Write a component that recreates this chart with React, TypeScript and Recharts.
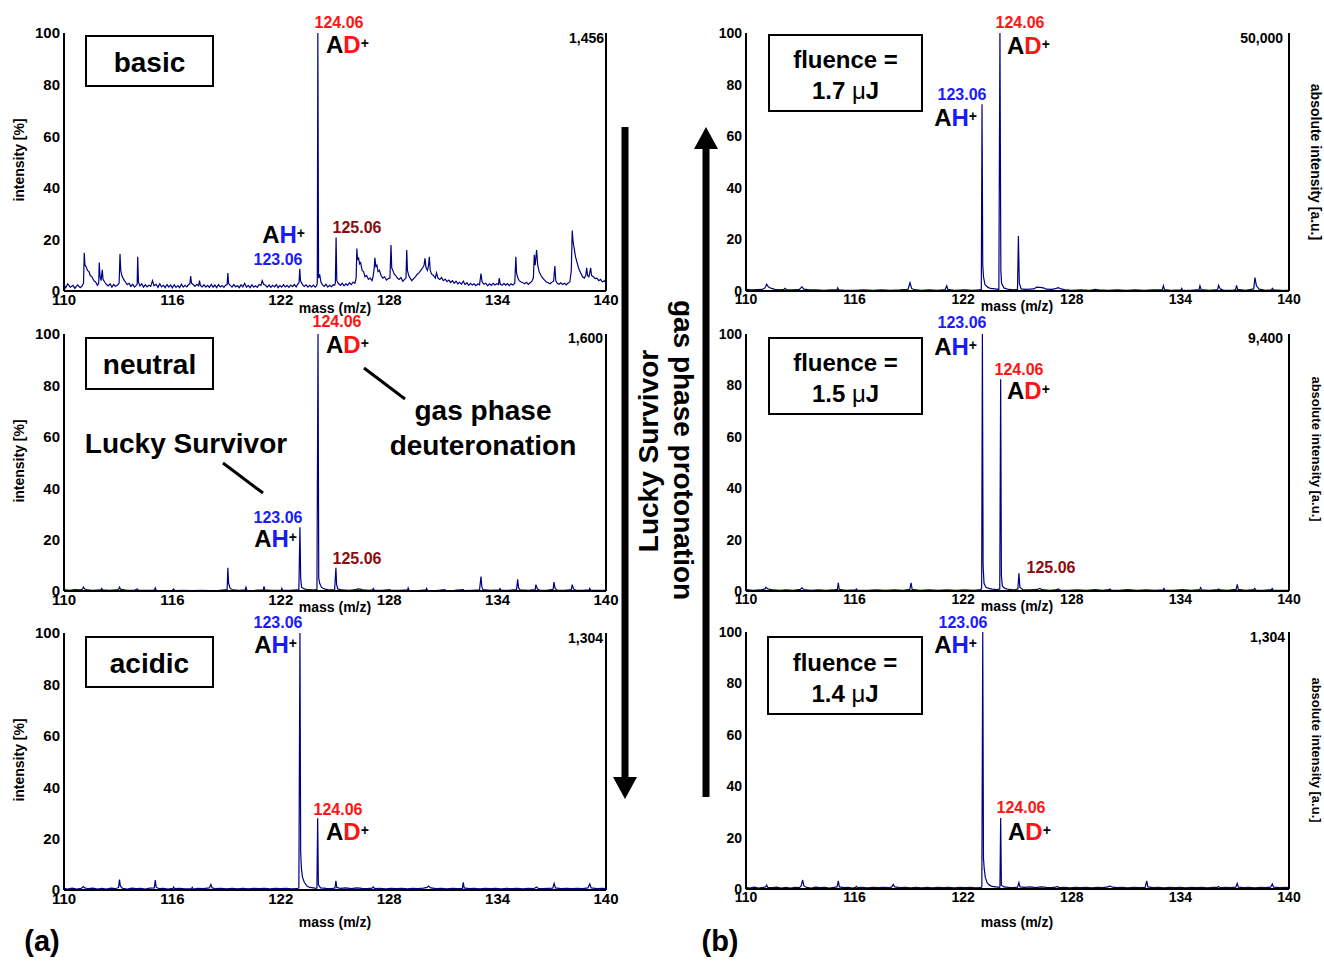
import React from 'react';
import { LineChart, Line, XAxis, YAxis, ReferenceLine } from 'recharts';

const FONT = '"Liberation Sans", Arial, Helvetica, sans-serif';
const X_TICKS = [110, 116, 122, 128, 134, 140];
const Y_TICKS = [0, 20, 40, 60, 80, 100];

// (a) basic solution
const basicSpectrum: [number, number][] = [
  [110.0, 2.5], [110.1, 1.2], [110.2, 2.8], [110.35, 1.5], [110.5, 2.2], [110.6, 1.0], [110.75, 2.4], [110.9, 1.3], [111.0, 2.0],
  [111.08, 3.0], [111.12, 14.8], [111.16, 10], [111.22, 9.5], [111.3, 8], [111.38, 7.5], [111.45, 6], [111.55, 5.5], [111.65, 4],
  [111.75, 3.5], [111.85, 2.2], [111.92, 3], [111.95, 11], [111.99, 6], [112.05, 4], [112.12, 8.2], [112.16, 4.5], [112.25, 3.5],
  [112.35, 2.5], [112.45, 2], [112.55, 2.8], [112.65, 1.5], [112.75, 2.5], [112.85, 1.8], [112.95, 2.2], [113.05, 3], [113.1, 14.3],
  [113.14, 8], [113.2, 6], [113.3, 4.5], [113.4, 3.5], [113.5, 2.5], [113.6, 3], [113.7, 1.8], [113.8, 2.6], [113.9, 1.5], [114.0, 2.2],
  [114.05, 2.5], [114.08, 13.3], [114.12, 3.5], [114.2, 2], [114.3, 2.8], [114.4, 1.5], [114.5, 2.4], [114.6, 1.6], [114.7, 2.2],
  [114.8, 1.8], [114.9, 4], [114.98, 2], [115.1, 2.6], [115.2, 1.4], [115.3, 2.8], [115.4, 1.6], [115.5, 2.2], [115.6, 1.3], [115.7, 2.5],
  [115.8, 1.5], [115.9, 2.3], [116.0, 1.2], [116.1, 2.4], [116.2, 1.4], [116.3, 2.1], [116.4, 1.3], [116.5, 2.6], [116.6, 1.5], [116.7, 2.2],
  [116.8, 1.6], [116.9, 2.5], [116.97, 2.8], [117.01, 5.8], [117.06, 3], [117.15, 2.5], [117.25, 1.8], [117.35, 2.6], [117.45, 2],
  [117.5, 4], [117.55, 2.2], [117.65, 1.6], [117.75, 2.4], [117.85, 1.5], [117.95, 2.2], [118.05, 1.4], [118.15, 2.6], [118.25, 1.5],
  [118.35, 2.3], [118.45, 1.3], [118.55, 2.5], [118.65, 1.6], [118.75, 2.1], [118.85, 1.4], [118.95, 2.3], [119.03, 2.5], [119.07, 7],
  [119.11, 3], [119.2, 2.2], [119.3, 1.5], [119.4, 2.5], [119.5, 1.6], [119.6, 2.1], [119.7, 1.3], [119.8, 2.4], [119.9, 1.6], [120.0, 3],
  [120.1, 1.5], [120.2, 2.2], [120.3, 1.3], [120.4, 2.4], [120.5, 1.5], [120.6, 2], [120.7, 1.4], [120.8, 2.5], [120.9, 2.2], [120.97, 4],
  [121.05, 2.6], [121.15, 2.2], [121.25, 1.5], [121.35, 2.3], [121.45, 1.4], [121.55, 2.2], [121.65, 1.6], [121.75, 2.5], [121.85, 1.3],
  [121.95, 2.1], [122.05, 1.5], [122.15, 2.4], [122.25, 1.6], [122.35, 2.2], [122.45, 1.4], [122.55, 2.3], [122.65, 1.7], [122.75, 2.5],
  [122.85, 1.6], [122.95, 2.8], [123.01, 3.2], [123.05, 8.6], [123.09, 4], [123.2, 2.5], [123.3, 1.8], [123.4, 2.4], [123.5, 1.5],
  [123.6, 2.2], [123.7, 1.6], [123.8, 2.3], [123.9, 1.5], [123.98, 2], [124.02, 3], [124.05, 100], [124.09, 5], [124.15, 6.5],
  [124.22, 3.5], [124.3, 2.5], [124.4, 1.8], [124.5, 2.6], [124.6, 1.5], [124.7, 2.2], [124.8, 1.7], [124.9, 2.4], [124.98, 2.2],
  [125.02, 3], [125.06, 20.7], [125.1, 4], [125.2, 2.8], [125.3, 2.2], [125.4, 3], [125.5, 2], [125.6, 2.8], [125.7, 2.2], [125.8, 3.2],
  [125.9, 2.5], [126.0, 3.4], [126.1, 3], [126.17, 5], [126.21, 16.5], [126.25, 12], [126.3, 13], [126.36, 10.5], [126.42, 11],
  [126.5, 8], [126.58, 7.5], [126.66, 5.5], [126.75, 6], [126.85, 4.5], [126.95, 5], [127.05, 4], [127.12, 6], [127.17, 9],
  [127.21, 12.9], [127.26, 9.5], [127.32, 10], [127.38, 7.5], [127.46, 8], [127.55, 6], [127.65, 5], [127.75, 5.5], [127.85, 4.2],
  [127.95, 4.8], [128.04, 5], [128.1, 17.8], [128.14, 9], [128.2, 8], [128.28, 6.5], [128.36, 6], [128.45, 5], [128.55, 4.5],
  [128.65, 5.2], [128.75, 3.8], [128.85, 4.5], [128.93, 5], [128.97, 15.9], [129.01, 8], [129.08, 6], [129.16, 5], [129.25, 4],
  [129.35, 4.8], [129.45, 5.5], [129.55, 6.5], [129.65, 7], [129.75, 8], [129.85, 9], [129.93, 10], [129.98, 12.7], [130.04, 9],
  [130.12, 8], [130.18, 10], [130.22, 13.3], [130.27, 8], [130.35, 6.5], [130.45, 6], [130.55, 5], [130.62, 7], [130.7, 5], [130.8, 4.5],
  [130.9, 5.2], [131.0, 4], [131.1, 4.6], [131.2, 3.6], [131.3, 4.2], [131.4, 3.3], [131.5, 4], [131.6, 3], [131.7, 3.8], [131.8, 2.8],
  [131.9, 3.4], [132.0, 2.6], [132.1, 3.8], [132.2, 2.5], [132.3, 3.2], [132.4, 2.2], [132.5, 3], [132.6, 2.3], [132.7, 2.8], [132.8, 2.1],
  [132.9, 2.7], [133.0, 2.4], [133.08, 6.8], [133.14, 3.5], [133.25, 2.6], [133.35, 3], [133.45, 2], [133.55, 2.8], [133.65, 2.2],
  [133.75, 3], [133.85, 2.3], [133.95, 2.8], [134.05, 2.5], [134.09, 5], [134.15, 2.6], [134.25, 2.2], [134.35, 3], [134.45, 2.3],
  [134.55, 2.9], [134.65, 2.1], [134.75, 2.8], [134.85, 2.3], [134.95, 3], [135.01, 13.3], [135.05, 7], [135.12, 5], [135.2, 4],
  [135.3, 3.5], [135.4, 3.2], [135.5, 2.8], [135.6, 3.4], [135.7, 2.6], [135.8, 3.2], [135.9, 3.8], [135.98, 5], [136.03, 14],
  [136.08, 10], [136.16, 15.9], [136.22, 10], [136.3, 7.5], [136.4, 6], [136.5, 5], [136.6, 4.2], [136.7, 3.5], [136.8, 3.2],
  [136.9, 2.8], [137.0, 3.4], [137.1, 3.8], [137.17, 9.7], [137.22, 4], [137.3, 3], [137.4, 2.6], [137.5, 3.2], [137.6, 2.5], [137.7, 3],
  [137.8, 2.4], [137.9, 3.1], [138.0, 3.5], [138.08, 8], [138.13, 23.4], [138.18, 19], [138.25, 16], [138.32, 13], [138.4, 11],
  [138.5, 8.5], [138.6, 7], [138.7, 5.5], [138.8, 5], [138.88, 6], [138.93, 9], [138.98, 6], [139.05, 5.5], [139.1, 7], [139.15, 9],
  [139.2, 6], [139.3, 5.5], [139.4, 4.8], [139.5, 5], [139.6, 4], [139.7, 4.5], [139.8, 3.5], [139.9, 4], [140.0, 3.2],
];

// (a) neutral solution
const neutralSpectrum: [number, number][] = [
  [110.0, 0.5], [110.3, 0.3], [110.6, 0.5], [110.9, 0.4], [111.03, 0.8], [111.07, 1.5], [111.15, 0.8], [111.3, 0.4], [111.6, 0.3],
  [111.9, 0.4], [112.05, 0.5], [112.09, 1.0], [112.15, 0.4], [112.5, 0.3], [112.9, 0.4], [113.03, 0.7], [113.07, 1.5], [113.15, 0.6],
  [113.5, 0.3], [113.9, 0.3], [114.05, 0.8], [114.12, 0.3], [114.5, 0.3], [114.9, 0.3], [115.02, 0.5], [115.05, 1.2], [115.1, 0.3],
  [115.5, 0.2], [116.0, 0.3], [116.07, 0.8], [116.12, 0.2], [116.6, 0.3], [117.1, 0.2], [117.6, 0.3], [118.1, 0.2], [118.6, 0.3],
  [119.03, 0.5], [119.07, 9], [119.11, 3], [119.2, 1], [119.35, 0.4], [119.7, 0.3], [120.03, 0.4], [120.07, 1.5], [120.12, 0.3],
  [120.5, 0.2], [121.03, 0.4], [121.07, 1.8], [121.12, 0.4], [121.5, 0.3], [122.03, 0.3], [122.06, 1.0], [122.1, 0.3], [122.5, 0.3],
  [122.9, 0.4], [123.0, 0.6], [123.06, 24.8], [123.1, 5], [123.15, 1.5], [123.3, 0.8], [123.5, 0.5], [123.8, 0.4], [124.0, 0.6],
  [124.06, 100], [124.1, 5], [124.15, 3], [124.25, 1.5], [124.4, 0.8], [124.7, 0.4], [124.98, 0.5], [125.05, 9], [125.09, 2.5],
  [125.15, 0.8], [125.4, 0.4], [125.8, 0.3], [126.15, 0.5], [126.25, 0.8], [126.4, 0.7], [126.55, 0.4], [126.9, 0.3], [127.08, 0.4],
  [127.12, 1.0], [127.18, 0.3], [127.6, 0.3], [128.04, 0.5], [128.1, 0.3], [128.6, 0.3], [129.02, 0.4], [129.05, 1.2], [129.1, 0.3],
  [129.6, 0.2], [130.04, 0.4], [130.07, 1.0], [130.12, 0.3], [130.6, 0.2], [131.08, 0.5], [131.12, 0.2], [131.6, 0.3], [132.1, 0.5],
  [132.15, 0.2], [132.6, 0.3], [133.0, 0.4], [133.08, 5.6], [133.13, 1.5], [133.2, 0.5], [133.6, 0.3], [134.1, 0.4], [134.13, 1.0],
  [134.2, 0.3], [134.6, 0.3], [135.05, 0.5], [135.11, 4.5], [135.16, 1.2], [135.25, 0.4], [135.7, 0.3], [136.08, 0.5], [136.12, 2.5],
  [136.2, 0.8], [136.35, 0.3], [136.7, 0.3], [137.07, 0.6], [137.12, 3.5], [137.18, 1.0], [137.3, 0.3], [137.7, 0.3], [138.08, 0.5],
  [138.13, 2.5], [138.2, 0.8], [138.35, 0.3], [138.7, 0.3], [139.07, 0.4], [139.1, 1.0], [139.16, 0.3], [139.6, 0.3], [140.0, 0.3],
];

// (a) acidic solution
const acidicSpectrum: [number, number][] = [
  [110.0, 0.6], [110.2, 0.4], [110.45, 0.7], [110.7, 0.4], [110.95, 0.6], [111.07, 1.3], [111.15, 0.8], [111.35, 0.5], [111.6, 0.7],
  [111.85, 0.4], [112.1, 0.6], [112.35, 0.4], [112.6, 0.7], [112.85, 0.5], [113.02, 1], [113.07, 4.1], [113.12, 1.5], [113.25, 0.6],
  [113.5, 0.4], [113.75, 0.7], [114.0, 0.5], [114.25, 0.6], [114.5, 0.4], [114.75, 0.7], [115.0, 0.8], [115.05, 3.9], [115.1, 1.2],
  [115.25, 0.5], [115.5, 0.6], [115.75, 0.4], [116.02, 0.6], [116.07, 1.2], [116.12, 0.5], [116.4, 0.6], [116.7, 0.4], [117.05, 0.5],
  [117.1, 1.0], [117.15, 0.4], [117.4, 0.6], [117.7, 0.5], [118.05, 0.8], [118.13, 2.2], [118.2, 0.8], [118.4, 0.5], [118.7, 0.6],
  [119.0, 0.4], [119.3, 0.6], [119.6, 0.4], [119.9, 0.6], [120.2, 0.4], [120.5, 0.6], [120.8, 0.5], [121.1, 0.6], [121.4, 0.4],
  [121.7, 0.6], [122.0, 0.5], [122.3, 0.6], [122.6, 0.4], [122.9, 0.5], [123.0, 0.8], [123.06, 100], [123.1, 15], [123.14, 8.4],
  [123.2, 5], [123.3, 3], [123.45, 1.5], [123.6, 1], [123.8, 0.8], [123.95, 0.6], [124.0, 0.8], [124.04, 27.9], [124.08, 2],
  [124.2, 0.8], [124.5, 0.6], [124.8, 0.5], [125.0, 0.8], [125.05, 3.6], [125.1, 1], [125.3, 0.6], [125.6, 0.8], [125.9, 0.5],
  [126.2, 0.8], [126.5, 0.6], [126.8, 0.5], [127.05, 0.7], [127.12, 1.2], [127.2, 0.5], [127.5, 0.6], [127.8, 0.4], [128.1, 0.6],
  [128.4, 0.5], [128.7, 0.6], [129.0, 0.4], [129.3, 0.6], [129.6, 0.5], [129.9, 0.7], [130.1, 1], [130.17, 1.5], [130.3, 0.8],
  [130.6, 0.5], [130.9, 0.6], [131.2, 0.4], [131.5, 0.6], [131.8, 0.5], [132.05, 0.6], [132.1, 3], [132.15, 0.8], [132.4, 0.5],
  [132.7, 0.6], [133.0, 0.4], [133.3, 0.6], [133.6, 0.5], [133.9, 0.6], [134.2, 0.4], [134.5, 0.6], [134.8, 0.5], [135.1, 0.6],
  [135.4, 0.4], [135.7, 0.6], [136.0, 0.5], [136.16, 1.2], [136.25, 0.6], [136.5, 0.5], [136.8, 0.6], [137.05, 0.7], [137.13, 2.6],
  [137.2, 0.8], [137.5, 0.5], [137.8, 0.6], [138.1, 0.5], [138.4, 0.6], [138.7, 0.5], [139.0, 0.8], [139.1, 2.4], [139.18, 0.8],
  [139.5, 0.5], [139.8, 0.6], [140.0, 0.5],
];

// (b) fluence 1.7 uJ
const fluence17Spectrum: [number, number][] = [
  [110.0, 0.6], [110.3, 0.4], [110.6, 0.5], [110.9, 0.6], [111.05, 1.2], [111.14, 2.6], [111.25, 1.5], [111.4, 1], [111.6, 0.6],
  [111.9, 0.4], [112.1, 0.6], [112.15, 1.0], [112.25, 0.5], [112.6, 0.4], [112.95, 0.6], [113.09, 1.6], [113.2, 0.7], [113.5, 0.4],
  [113.9, 0.4], [114.3, 0.3], [114.7, 0.4], [115.03, 0.5], [115.07, 1.2], [115.12, 0.4], [115.5, 0.3], [116.0, 0.3], [116.5, 0.4],
  [117.0, 0.3], [117.5, 0.4], [118.0, 0.3], [118.5, 0.4], [118.95, 0.6], [119.06, 3.2], [119.15, 1.0], [119.3, 0.5], [119.7, 0.3],
  [120.1, 0.4], [120.6, 0.3], [121.0, 0.5], [121.09, 2], [121.15, 0.6], [121.5, 0.3], [122.1, 0.4], [122.5, 0.3], [122.9, 0.4],
  [123.0, 0.6], [123.04, 72.4], [123.08, 10], [123.12, 5.6], [123.2, 2.5], [123.35, 1.5], [123.5, 1], [123.75, 0.8], [123.97, 0.6],
  [124.03, 100], [124.08, 8], [124.12, 3], [124.25, 1.2], [124.5, 0.6], [124.8, 0.4], [125.0, 0.6], [125.05, 21.3], [125.1, 3],
  [125.2, 0.8], [125.5, 0.6], [125.9, 0.8], [126.06, 1.5], [126.25, 1.4], [126.43, 1.2], [126.6, 0.7], [126.9, 0.6], [127.1, 0.9],
  [127.26, 1.3], [127.4, 0.8], [127.7, 0.4], [128.0, 0.3], [128.5, 0.4], [129.0, 0.3], [129.3, 0.6], [129.5, 0.4], [130.0, 0.3],
  [130.5, 0.4], [131.0, 0.3], [131.5, 0.4], [132.0, 0.3], [132.5, 0.4], [133.0, 0.5], [133.06, 2], [133.12, 0.5], [133.5, 0.3],
  [134.03, 0.4], [134.07, 1], [134.12, 0.3], [134.6, 0.3], [135.03, 0.5], [135.08, 2], [135.15, 0.5], [135.6, 0.3], [136.05, 0.5],
  [136.11, 2.2], [136.2, 0.8], [136.4, 0.3], [136.9, 0.3], [137.05, 0.5], [137.1, 2.2], [137.16, 0.6], [137.6, 0.3], [138.05, 0.8],
  [138.12, 5.2], [138.2, 2], [138.35, 0.7], [138.7, 0.3], [139.03, 0.4], [139.08, 1], [139.15, 0.4], [139.6, 0.3], [140.0, 0.3],
];

// (b) fluence 1.5 uJ
const fluence15Spectrum: [number, number][] = [
  [110.0, 0.5], [110.4, 0.3], [110.8, 0.4], [111.05, 0.8], [111.1, 1.5], [111.2, 0.8], [111.5, 0.4], [111.9, 0.3], [112.2, 0.4],
  [112.6, 0.3], [113.0, 0.6], [113.09, 1.2], [113.2, 0.5], [113.6, 0.3], [114.0, 0.4], [114.4, 0.3], [114.8, 0.4], [115.05, 0.6],
  [115.1, 3.2], [115.15, 0.6], [115.5, 0.3], [116.05, 0.4], [116.1, 0.8], [116.15, 0.3], [116.7, 0.3], [117.2, 0.4], [117.7, 0.3],
  [118.2, 0.4], [118.7, 0.3], [119.05, 0.6], [119.12, 3.2], [119.18, 0.6], [119.6, 0.3], [120.1, 0.4], [120.6, 0.3], [121.1, 0.4],
  [121.6, 0.3], [122.1, 0.4], [122.6, 0.3], [122.95, 0.5], [123.02, 1], [123.06, 100], [123.1, 10], [123.15, 3], [123.25, 1.5],
  [123.4, 1], [123.6, 0.7], [123.85, 0.5], [124.02, 0.8], [124.07, 82.4], [124.11, 6], [124.16, 2], [124.3, 1], [124.5, 0.6],
  [124.8, 0.4], [125.02, 0.8], [125.08, 6.9], [125.13, 1.5], [125.3, 0.5], [125.7, 0.4], [126.1, 0.6], [126.24, 1], [126.35, 0.5],
  [126.8, 0.3], [127.1, 0.4], [127.26, 0.8], [127.35, 0.3], [127.8, 0.3], [128.3, 0.4], [128.8, 0.3], [129.3, 0.5], [129.7, 0.3],
  [130.05, 0.5], [130.1, 0.8], [130.18, 0.3], [130.6, 0.3], [131.1, 0.5], [131.6, 0.3], [132.1, 0.4], [132.6, 0.3], [133.04, 0.4],
  [133.09, 1], [133.15, 0.3], [133.6, 0.3], [134.1, 0.5], [134.6, 0.3], [135.06, 0.5], [135.12, 1.3], [135.18, 0.4], [135.6, 0.3],
  [136.05, 0.5], [136.1, 0.8], [136.2, 0.4], [136.6, 0.3], [137.08, 0.6], [137.14, 2.6], [137.2, 0.6], [137.6, 0.3], [138.05, 0.5],
  [138.1, 1.0], [138.18, 0.3], [138.6, 0.3], [139.03, 0.5], [139.07, 1.0], [139.13, 0.3], [139.6, 0.3], [140.0, 0.3],
];

// (b) fluence 1.4 uJ
const fluence14Spectrum: [number, number][] = [
  [110.0, 0.6], [110.2, 0.4], [110.45, 0.7], [110.7, 0.4], [110.95, 0.6], [111.08, 0.8], [111.14, 1.5], [111.2, 0.6], [111.45, 0.5],
  [111.7, 0.7], [111.95, 0.4], [112.2, 0.6], [112.45, 0.4], [112.7, 0.6], [112.95, 0.5], [113.05, 1.2], [113.13, 3.5], [113.2, 1.2],
  [113.35, 0.6], [113.6, 0.4], [113.85, 0.7], [114.1, 0.5], [114.35, 0.6], [114.6, 0.4], [114.85, 0.6], [115.03, 0.8], [115.1, 3.2],
  [115.16, 0.8], [115.4, 0.5], [115.65, 0.6], [115.9, 0.4], [116.05, 0.6], [116.1, 1], [116.16, 0.5], [116.4, 0.6], [116.7, 0.4],
  [117.0, 0.6], [117.3, 0.5], [117.6, 0.6], [117.9, 0.5], [118.05, 0.8], [118.14, 1.8], [118.22, 0.8], [118.5, 0.5], [118.8, 0.6],
  [119.1, 0.4], [119.4, 0.6], [119.7, 0.4], [120.0, 0.6], [120.3, 0.4], [120.6, 0.6], [120.9, 0.5], [121.2, 0.6], [121.5, 0.4],
  [121.8, 0.6], [122.1, 0.5], [122.4, 0.6], [122.7, 0.4], [122.95, 0.5], [123.03, 0.8], [123.08, 100], [123.12, 12], [123.16, 8],
  [123.22, 4.5], [123.32, 2.5], [123.45, 1.5], [123.6, 1], [123.8, 0.8], [124.0, 0.6], [124.03, 0.8], [124.07, 27.6], [124.11, 1.5],
  [124.25, 0.8], [124.5, 0.6], [124.8, 0.5], [125.0, 0.7], [125.08, 2.5], [125.14, 0.8], [125.4, 0.6], [125.7, 0.8], [126.0, 0.5],
  [126.3, 0.8], [126.6, 0.6], [126.9, 0.5], [127.1, 0.7], [127.2, 1.0], [127.3, 0.5], [127.6, 0.6], [127.9, 0.4], [128.2, 0.6],
  [128.5, 0.5], [128.8, 0.6], [129.1, 0.4], [129.4, 0.6], [129.7, 0.5], [130.0, 0.8], [130.1, 1.2], [130.25, 0.7], [130.5, 0.5],
  [130.8, 0.6], [131.1, 0.4], [131.4, 0.6], [131.7, 0.5], [132.05, 0.6], [132.14, 3.2], [132.2, 0.8], [132.5, 0.5], [132.8, 0.6],
  [133.1, 0.4], [133.4, 0.6], [133.7, 0.5], [134.0, 0.6], [134.3, 0.4], [134.6, 0.6], [134.9, 0.5], [135.2, 0.6], [135.5, 0.4],
  [135.8, 0.6], [136.05, 0.6], [136.1, 1], [136.2, 0.5], [136.5, 0.6], [136.8, 0.5], [137.06, 0.7], [137.14, 2.2], [137.2, 0.7],
  [137.5, 0.5], [137.8, 0.6], [138.1, 0.4], [138.4, 0.6], [138.7, 0.5], [138.98, 0.7], [139.08, 2], [139.15, 0.7], [139.5, 0.5],
  [139.8, 0.6], [140.0, 0.5],
];

const BLUE = '#1a1aff';
const RED = '#ff1414';
const DARKRED = '#8e0b0b';
const NAVY = '#000080';

type Pt = [number, number];

function Spectrum({ data, axisX, topY, plotW, plotH, fs }: { data: Pt[]; axisX: number; topY: number; plotW: number; plotH: number; fs: number }) {
  const rows = data.map(([m, y]) => ({ m, y }));
  const tickStyle = { fontSize: fs, fontWeight: 'bold', fill: '#000', fontFamily: FONT } as any;
  return (
    <div style={{ position: 'absolute', left: axisX - 50, top: topY - 10 }}>
      <LineChart width={plotW + 80} height={plotH + 40} data={rows} margin={{ top: 10, right: 30, bottom: 0, left: 0 }}>
        <XAxis
          dataKey="m"
          type="number"
          domain={[110, 140]}
          ticks={X_TICKS}
          interval={0}
          height={30}
          axisLine={{ stroke: '#000', strokeWidth: 2 }}
          tickLine={false}
          tickSize={0}
          tickMargin={3}
          tick={tickStyle}
        />
        <YAxis
          type="number"
          domain={[0, 100]}
          ticks={Y_TICKS}
          interval={0}
          width={50}
          axisLine={{ stroke: '#000', strokeWidth: 2 }}
          tickLine={false}
          tickSize={0}
          tickMargin={4}
          tick={tickStyle}
        />
        <ReferenceLine x={140} stroke="#000" strokeWidth={2} />
        <Line dataKey="y" type="linear" stroke={NAVY} strokeWidth={1.2} dot={false} isAnimationActive={false} />
      </LineChart>
    </div>
  );
}

function Num({ x, y, color, children, anchor = 'middle', size = 16 }: any) {
  return (
    <text x={x} y={y} fill={color} fontSize={size} fontWeight="bold" textAnchor={anchor} fontFamily={FONT}>
      {children}
    </text>
  );
}

function Ion({ x, y, letter, color, anchor = 'start' }: any) {
  return (
    <text x={x} y={y} fontSize={24} fontWeight="bold" textAnchor={anchor} fontFamily={FONT}>
      <tspan fill="#000">A</tspan>
      <tspan fill={color}>{letter}</tspan>
      <tspan fill="#000" fontSize={14} dy={-5}>+</tspan>
    </text>
  );
}

function Box({ x, y, w, h }: any) {
  return <rect x={x} y={y} width={w} height={h} fill="none" stroke="#000" strokeWidth={2} />;
}

function Fluence({ x, y, w, h, value, b1, b2 }: any) {
  const cx = x + w / 2;
  return (
    <g>
      <Box x={x} y={y} w={w} h={h} />
      <text x={cx} y={b1} fontSize={24} fontWeight="bold" textAnchor="middle" fontFamily={FONT}>fluence =</text>
      <text x={cx} y={b2} fontSize={24} fontWeight="bold" textAnchor="middle" fontFamily={FONT}>
        {value} <tspan fontWeight="normal">μ</tspan>J
      </text>
    </g>
  );
}

export default function App() {
  const A_X = 64;
  const A_W = 542;
  const B_X = 746;
  const B_W = 543;
  return (
    <div style={{ position: 'absolute', left: 0, top: 0, width: 1324, height: 963, background: '#fff', fontFamily: FONT, overflow: 'hidden' }}>
      <Spectrum data={basicSpectrum} axisX={A_X} topY={33} plotW={A_W} plotH={258} fs={15} />
      <Spectrum data={neutralSpectrum} axisX={A_X} topY={334} plotW={A_W} plotH={257} fs={15} />
      <Spectrum data={acidicSpectrum} axisX={A_X} topY={633} plotW={A_W} plotH={257} fs={15} />
      <Spectrum data={fluence17Spectrum} axisX={B_X} topY={33} plotW={B_W} plotH={258} fs={14} />
      <Spectrum data={fluence15Spectrum} axisX={B_X} topY={334} plotW={B_W} plotH={257} fs={14} />
      <Spectrum data={fluence14Spectrum} axisX={B_X} topY={632} plotW={B_W} plotH={257} fs={14} />

      <svg width={1324} height={963} style={{ position: 'absolute', left: 0, top: 0, pointerEvents: 'none' }} fontFamily={FONT}>
        {/* axis titles */}
        {[160, 461, 760].map((cy) => (
          <text key={'it' + cy} x={19} y={cy} transform={`rotate(-90 19 ${cy})`} fontSize={14} fontWeight="bold" textAnchor="middle" dominantBaseline="central">
            intensity [%]
          </text>
        ))}
        {[
          [162, 14],
          [449, 13],
          [750, 13],
        ].map(([cy, s]) => (
          <text key={'ab' + cy} x={1316} y={cy} transform={`rotate(90 1316 ${cy})`} fontSize={s} fontWeight="bold" textAnchor="middle" dominantBaseline="central">
            absolute intensity [a.u.]
          </text>
        ))}
        {[
          [335, 313],
          [335, 612],
          [335, 927],
          [1017, 311],
          [1017, 611],
          [1017, 927],
        ].map(([x, y]) => (
          <text key={'ms' + x + y} x={x} y={y} fontSize={14} fontWeight="bold" textAnchor="middle">
            mass (m/z)
          </text>
        ))}

        {/* absolute scale numbers */}
        <Num x={604} y={43} color="#000" anchor="end" size={14}>1,456</Num>
        <Num x={603} y={343} color="#000" anchor="end" size={14}>1,600</Num>
        <Num x={603} y={643} color="#000" anchor="end" size={14}>1,304</Num>
        <Num x={1283} y={43} color="#000" anchor="end" size={14}>50,000</Num>
        <Num x={1283} y={343} color="#000" anchor="end" size={14}>9,400</Num>
        <Num x={1285} y={642} color="#000" anchor="end" size={14}>1,304</Num>

        {/* panel boxes (a) */}
        <Box x={86} y={36} w={127} h={50} />
        <text x={149.5} y={72} fontSize={28} fontWeight="bold" textAnchor="middle">basic</text>
        <Box x={86} y={338} w={127} h={51} />
        <text x={149.5} y={374} fontSize={28} fontWeight="bold" textAnchor="middle">neutral</text>
        <Box x={86} y={637} w={127} h={50} />
        <text x={149.5} y={673} fontSize={28} fontWeight="bold" textAnchor="middle">acidic</text>

        {/* panel boxes (b) */}
        <Fluence x={769} y={35} w={153} h={76} value="1.7" b1={68} b2={99} />
        <Fluence x={769} y={338} w={153} h={76} value="1.5" b1={371} b2={402} />
        <Fluence x={768} y={637} w={154} h={77} value="1.4" b1={671} b2={702} />

        {/* (a) basic labels */}
        <Num x={339} y={28} color={RED}>124.06</Num>
        <Ion x={326} y={53} letter="D" color={RED} />
        <Ion x={305} y={243} letter="H" color={BLUE} anchor="end" />
        <Num x={278} y={265} color={BLUE}>123.06</Num>
        <Num x={357} y={233} color={DARKRED}>125.06</Num>

        {/* (a) neutral labels */}
        <Num x={337} y={327} color={RED}>124.06</Num>
        <Ion x={326} y={353} letter="D" color={RED} />
        <Num x={278} y={523} color={BLUE}>123.06</Num>
        <Ion x={297} y={547} letter="H" color={BLUE} anchor="end" />
        <Num x={357} y={564} color={DARKRED}>125.06</Num>
        <text x={186} y={453} fontSize={28} fontWeight="bold" textAnchor="middle">Lucky Survivor</text>
        <line x1={223} y1={463} x2={263} y2={493} stroke="#000" strokeWidth={3} />
        <text x={483} y={420} fontSize={28} fontWeight="bold" textAnchor="middle">gas phase</text>
        <text x={483} y={455} fontSize={28} fontWeight="bold" textAnchor="middle">deuteronation</text>
        <line x1={364} y1={368} x2={405} y2={399} stroke="#000" strokeWidth={3} />

        {/* (a) acidic labels */}
        <Num x={278} y={628} color={BLUE}>123.06</Num>
        <Ion x={297} y={653} letter="H" color={BLUE} anchor="end" />
        <Num x={338} y={815} color={RED}>124.06</Num>
        <Ion x={326} y={840} letter="D" color={RED} />

        {/* (b) 1.7 labels */}
        <Num x={1020} y={28} color={RED}>124.06</Num>
        <Ion x={1007} y={54} letter="D" color={RED} />
        <Num x={962} y={100} color={BLUE}>123.06</Num>
        <Ion x={977} y={126} letter="H" color={BLUE} anchor="end" />

        {/* (b) 1.5 labels */}
        <Num x={962} y={328} color={BLUE}>123.06</Num>
        <Ion x={977} y={355} letter="H" color={BLUE} anchor="end" />
        <Num x={1019} y={375} color={RED}>124.06</Num>
        <Ion x={1007} y={399} letter="D" color={RED} />
        <Num x={1051} y={573} color={DARKRED}>125.06</Num>

        {/* (b) 1.4 labels */}
        <Num x={963} y={628} color={BLUE}>123.06</Num>
        <Ion x={977} y={653} letter="H" color={BLUE} anchor="end" />
        <Num x={1021} y={813} color={RED}>124.06</Num>
        <Ion x={1008} y={840} letter="D" color={RED} />

        {/* arrows */}
        <rect x={621.5} y={127} width={7} height={652} fill="#000" />
        <polygon points="613,777 637,777 625,799" fill="#000" />
        <rect x={702.5} y={147} width={7} height={650} fill="#000" />
        <polygon points="694,149 718,149 706,127" fill="#000" />
        <text x={648} y={451} transform="rotate(-90 648 451)" fontSize={28} fontWeight="bold" textAnchor="middle" dominantBaseline="central">
          Lucky Survivor
        </text>
        <text x={683} y={450} transform="rotate(90 683 450)" fontSize={28} fontWeight="bold" textAnchor="middle" dominantBaseline="central">
          gas phase protonation
        </text>

        {/* panel letters */}
        <text x={42} y={951} fontSize={29} fontWeight="bold" textAnchor="middle">(a)</text>
        <text x={720} y={951} fontSize={29} fontWeight="bold" textAnchor="middle">(b)</text>
      </svg>
    </div>
  );
}
